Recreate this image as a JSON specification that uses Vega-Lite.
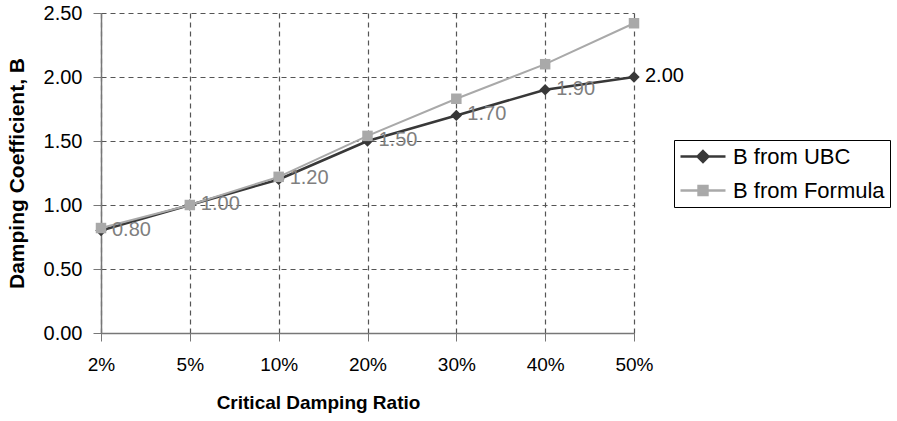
{
  "$schema": "https://vega.github.io/schema/vega-lite/v6.json",
  "width": 533,
  "height": 320,
  "autosize": {"type": "none"},
  "padding": {"left": 101, "top": 13, "right": 263, "bottom": 88},
  "background": "white",
  "config": {"font": "Liberation Sans", "view": {"stroke": null}},
  "data": {
    "values": [
      {"ratio": "2%", "series": "B from UBC", "B": 0.80},
      {"ratio": "5%", "series": "B from UBC", "B": 1.00},
      {"ratio": "10%", "series": "B from UBC", "B": 1.20},
      {"ratio": "20%", "series": "B from UBC", "B": 1.50},
      {"ratio": "30%", "series": "B from UBC", "B": 1.70},
      {"ratio": "40%", "series": "B from UBC", "B": 1.90},
      {"ratio": "50%", "series": "B from UBC", "B": 2.00},
      {"ratio": "2%", "series": "B from Formula", "B": 0.82},
      {"ratio": "5%", "series": "B from Formula", "B": 1.00},
      {"ratio": "10%", "series": "B from Formula", "B": 1.22},
      {"ratio": "20%", "series": "B from Formula", "B": 1.54},
      {"ratio": "30%", "series": "B from Formula", "B": 1.83},
      {"ratio": "40%", "series": "B from Formula", "B": 2.10},
      {"ratio": "50%", "series": "B from Formula", "B": 2.42}
    ]
  },
  "encoding": {
    "x": {
      "field": "ratio",
      "type": "ordinal",
      "sort": ["2%", "5%", "10%", "20%", "30%", "40%", "50%"],
      "scale": {"type": "point", "padding": 0},
      "axis": {
        "title": "Critical Damping Ratio",
        "titleFontSize": 19,
        "titleFontWeight": "bold",
        "titleColor": "black",
        "titleX": 217,
        "titleY": 69,
        "titleAlign": "center",
        "titleBaseline": "middle",
        "labelAngle": 0,
        "labelFontSize": 19,
        "labelColor": "black",
        "labelPadding": 14,
        "tickSize": 8,
        "tickColor": "#777",
        "domainColor": "#777",
        "domainWidth": 1.5,
        "grid": true,
        "gridColor": "#555",
        "gridDash": [5, 4],
        "gridWidth": 1.2
      }
    },
    "y": {
      "field": "B",
      "type": "quantitative",
      "scale": {"domain": [0, 2.5]},
      "axis": {
        "title": "Damping Coefficient, B",
        "titleFontSize": 21,
        "titleFontWeight": "bold",
        "titleColor": "black",
        "titleX": -84,
        "titleY": 160,
        "titleAngle": -90,
        "titleAlign": "center",
        "titleBaseline": "middle",
        "values": [0, 0.5, 1, 1.5, 2, 2.5],
        "format": ".2f",
        "labelFontSize": 20,
        "labelColor": "black",
        "labelPadding": 11,
        "tickSize": 8,
        "tickColor": "#777",
        "domainColor": "#777",
        "domainWidth": 1.5,
        "grid": true,
        "gridColor": "#555",
        "gridDash": [5, 4],
        "gridWidth": 1.2
      }
    }
  },
  "layer": [
    {
      "transform": [{"filter": "datum.series === 'B from UBC'"}],
      "mark": {"type": "line", "color": "#383838", "strokeWidth": 2.6},
      "encoding": {}
    },
    {
      "transform": [{"filter": "datum.series === 'B from UBC'"}],
      "mark": {"type": "point", "shape": "diamond", "filled": true, "size": 130, "color": "#383838", "opacity": 1},
      "encoding": {}
    },
    {
      "transform": [{"filter": "datum.series === 'B from Formula'"}],
      "mark": {"type": "line", "color": "#a9a9a9", "strokeWidth": 2},
      "encoding": {}
    },
    {
      "transform": [{"filter": "datum.series === 'B from Formula'"}],
      "mark": {"type": "point", "shape": "square", "filled": true, "size": 110, "color": "#a9a9a9", "opacity": 1},
      "encoding": {}
    },
    {
      "transform": [{"filter": "datum.series === 'B from UBC'"}],
      "mark": {"type": "text", "align": "left", "baseline": "middle", "dx": 11, "dy": -1, "fontSize": 20},
      "encoding": {
        "text": {"field": "B", "type": "quantitative", "format": ".2f"},
        "color": {"condition": {"test": "datum.ratio === '50%'", "value": "black"}, "value": "#7f7f7f"}
      }
    },
    {
      "mark": {"type": "point", "filled": true, "opacity": 0, "strokeWidth": 2},
      "encoding": {
        "fill": {
          "field": "series",
          "type": "nominal",
          "scale": {"domain": ["B from UBC", "B from Formula"], "range": ["#383838", "#a9a9a9"]},
          "legend": {
            "title": null,
            "orient": "none",
            "legendX": 573,
            "legendY": 127,
            "strokeColor": "black",
            "fillColor": "white",
            "padding": 5,
            "labelFontSize": 22,
            "labelColor": "black",
            "labelLimit": 300,
            "labelOffset": 31,
            "rowPadding": 11,
            "symbolSize": 400,
            "symbolStrokeWidth": 2.4,
            "symbolOpacity": 1
          }
        },
        "stroke": {
          "field": "series",
          "type": "nominal",
          "scale": {"domain": ["B from UBC", "B from Formula"], "range": ["#383838", "#a9a9a9"]},
          "legend": {
            "title": null,
            "orient": "none",
            "legendX": 573,
            "legendY": 127,
            "strokeColor": "black",
            "fillColor": "white",
            "padding": 5,
            "labelFontSize": 22,
            "labelColor": "black",
            "labelLimit": 300,
            "labelOffset": 31,
            "rowPadding": 11,
            "symbolSize": 400,
            "symbolStrokeWidth": 2.4,
            "symbolOpacity": 1
          }
        },
        "shape": {
          "field": "series",
          "type": "nominal",
          "scale": {
            "domain": ["B from UBC", "B from Formula"],
            "range": [
              "M-1,0L3.5,0M1.25,-0.55L1.8,0L1.25,0.55L0.7,0Z",
              "M-1,0L3.5,0M0.8,-0.45L1.7,-0.45L1.7,0.45L0.8,0.45Z"
            ]
          },
          "legend": {
            "title": null,
            "orient": "none",
            "legendX": 573,
            "legendY": 127,
            "strokeColor": "black",
            "fillColor": "white",
            "padding": 5,
            "labelFontSize": 22,
            "labelColor": "black",
            "labelLimit": 300,
            "labelOffset": 31,
            "rowPadding": 11,
            "symbolSize": 400,
            "symbolStrokeWidth": 2.4,
            "symbolOpacity": 1
          }
        }
      }
    }
  ]
}
